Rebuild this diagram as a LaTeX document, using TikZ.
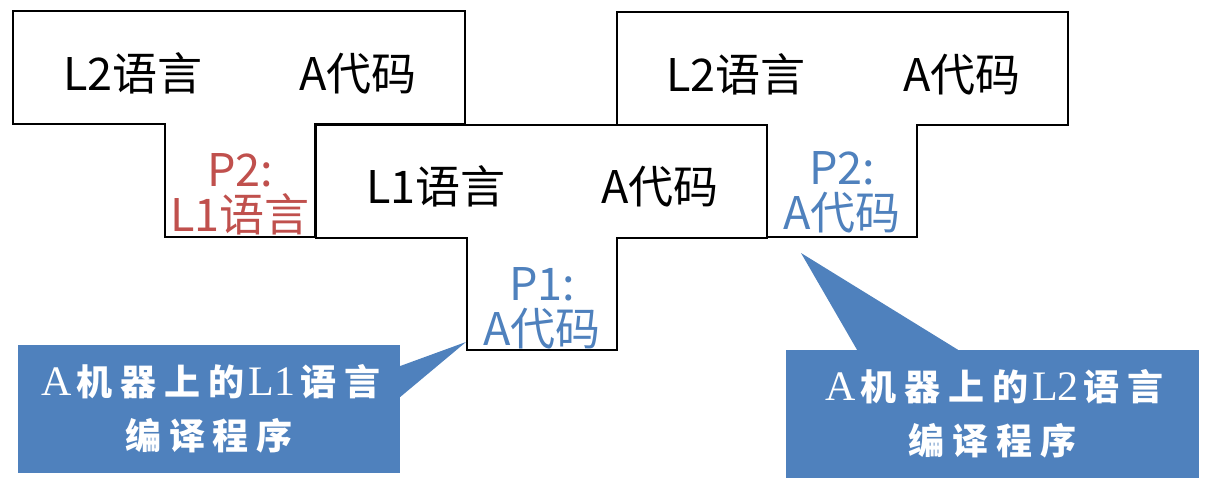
\documentclass[tikz,border=0pt]{standalone}
\usepackage{fontspec}
\setmainfont{Noto Sans CJK SC}
\newfontfamily\callfont[LetterSpace=22]{Noto Sans CJK SC}
\newfontfamily\callserif{Liberation Serif}
\newcommand\csr[1]{\hspace{4pt}{\callserif\mdseries\fontsize{42}{54}\selectfont #1}\hspace{5pt}}
\definecolor{tblue}{HTML}{4F81BD}
\definecolor{tred}{HTML}{C0504D}
\tikzset{
  tframe/.style={draw=black, line width=2pt, fill=white, line join=miter},
  mainlabel/.style={anchor=base, inner sep=0pt, font=\fontsize{45}{45}\selectfont},
  stemlabel/.style={anchor=base, inner sep=0pt, align=center, font=\fontsize{45}{45}\selectfont},
  callbox/.style={fill=tblue, draw=none, inner sep=0pt, align=center, text=white,
    font=\callfont\bfseries\fontsize{36}{54}\selectfont},
  calltail/.style={fill=tblue, draw=none}
}
\begin{document}
\begin{tikzpicture}[x=1pt,y=-1pt]
\useasboundingbox (0,0) rectangle (1209,490);
% T frames
\draw[tframe] (13,11) -- (465,11) -- (465,124) -- (315,124) -- (315,237) -- (165,237) -- (165,124) -- (13,124) -- cycle;
\draw[tframe] (617,12) -- (1068,12) -- (1068,125) -- (917,125) -- (917,237) -- (767,237) -- (767,125) -- (617,125) -- cycle;
\draw[tframe] (316,125) -- (767,125) -- (767,238) -- (617,238) -- (617,350) -- (467,350) -- (467,238) -- (316,238) -- cycle;
% top labels
\node[mainlabel] (lsrc) at (133,90) {L2语言};
\node[mainlabel] (ltgt) at (358,90) {A代码};
\node[mainlabel] (msrc) at (436,203) {L1语言};
\node[mainlabel] (mtgt) at (660,203) {A代码};
\node[mainlabel] (rsrc) at (736,91) {L2语言};
\node[mainlabel] (rtgt) at (962,91) {A代码};
% stem labels (base = baseline of last line)
\node[stemlabel, text=tred] (lstem) at (240,231) {P2:\\L1语言};
\node[stemlabel, text=tblue] (mstem) at (542,345) {P1:\\A代码};
\node[stemlabel, text=tblue] (rstem) at (842,229) {P2:\\A代码};
% callouts
\coordinate (tip1) at (466,342);
\coordinate (tip2) at (801,253);
\node[callbox, minimum width=382pt, minimum height=128pt] (c1) at (209,409)
  {\csr{A}机器上的\csr{L1}语言\\编译程序};
\node[callbox, minimum width=413pt, minimum height=128pt] (c2) at (992.5,414)
  {\csr{A}机器上的\csr{L2}语言\\编译程序};
\fill[calltail] ([yshift=43pt]c1.east) -- (tip1) -- ([yshift=12pt]c1.east) -- cycle;
\fill[calltail] ([xshift=-135.5pt]c2.north) -- (tip2) -- ([xshift=-34.5pt]c2.north) -- cycle;
\end{tikzpicture}
\end{document}
